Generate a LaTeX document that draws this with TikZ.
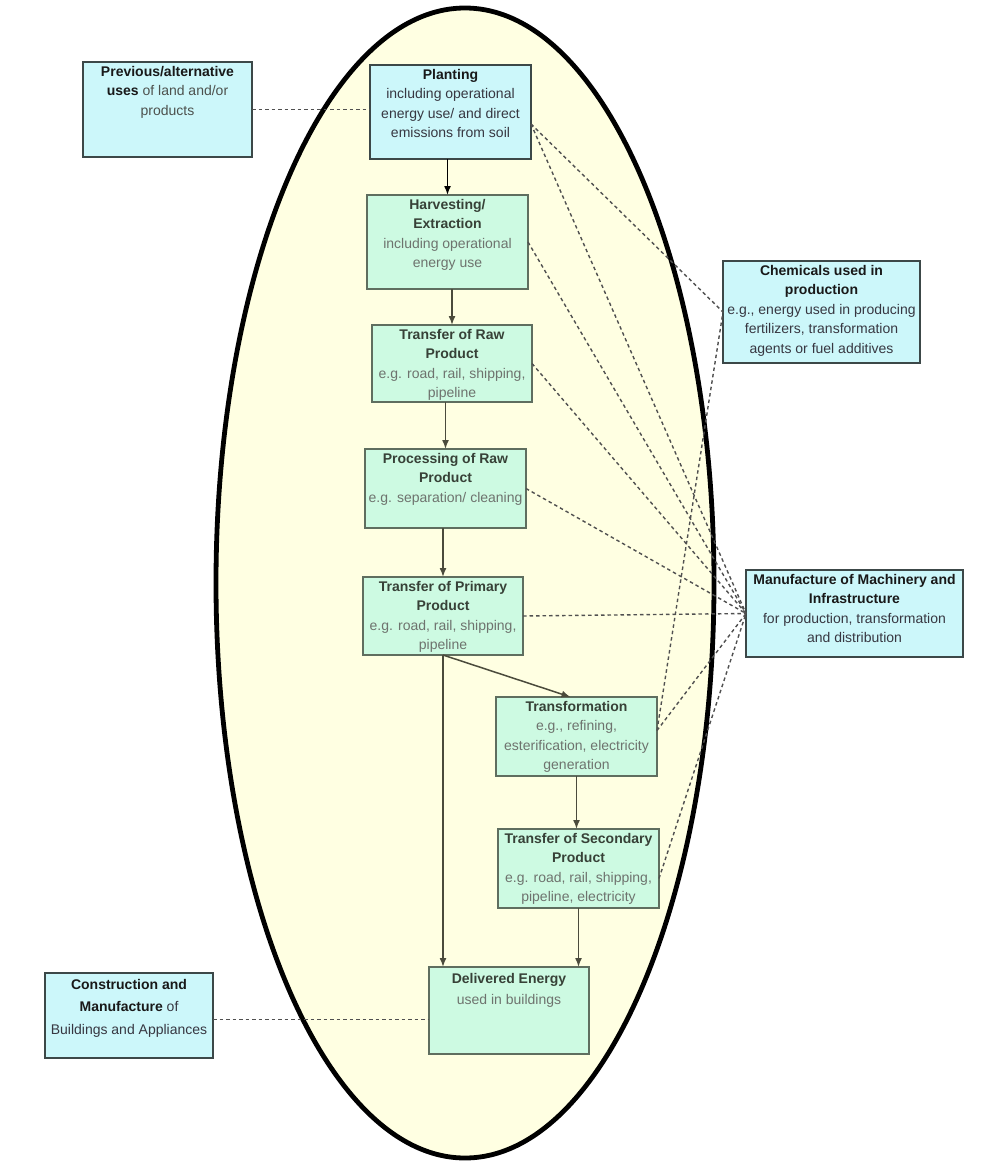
\documentclass[tikz,border=0pt]{standalone}
\usepackage{fontspec}
\setmainfont{Liberation Sans}
\usetikzlibrary{arrows.meta,calc}
\definecolor{cyanfill}{RGB}{204,247,250}
\definecolor{greenfill}{RGB}{205,250,226}
\definecolor{ellfill}{RGB}{255,255,226}
\definecolor{cyanborder}{RGB}{60,72,72}
\definecolor{greenborder}{RGB}{95,110,95}
\definecolor{arrowcol}{RGB}{75,75,60}
\definecolor{dashcol}{RGB}{80,80,80}
\definecolor{titledark}{RGB}{25,25,25}
\definecolor{titlegreen}{RGB}{55,65,55}
\definecolor{bodygray}{RGB}{110,115,110}
\definecolor{bodydark}{RGB}{55,55,65}
\newcommand\cytitle[1]{\textcolor{titledark}{\bfseries #1}}
\newcommand\grtitle[1]{\textcolor{titlegreen}{\bfseries #1}}
\begin{document}
\begin{tikzpicture}[x=1pt,y=-1pt,
  cbox/.style={draw=cyanborder, fill=cyanfill, line width=1.3pt, anchor=north west, inner sep=0pt, outer sep=0pt},
  gbox/.style={draw=greenborder, fill=greenfill, line width=1.3pt, anchor=north west, inner sep=0pt, outer sep=0pt},
  txt/.style={anchor=north, inner sep=0pt, align=center, font=\fontsize{14}{19.5}\selectfont},
  ctxt/.style={txt, text=bodydark},
  gtxt/.style={txt, text=bodygray},
  dashline/.style={draw=dashcol, line width=1.4pt, dash pattern=on 3.5pt off 3pt},
  flow/.style={draw=arrowcol, line width=1.5pt, -{Latex[length=9pt,width=7pt]}},
]
\useasboundingbox[fill=white] (0,0) rectangle (1005,1162);
% ellipse
\draw[line width=4.8pt, fill=ellfill] (465,583) ellipse [x radius=249, y radius=575];

% boxes
\node[cbox, minimum width=169, minimum height=95] (prev) at (83,62) {};
\node[cbox, minimum width=161, minimum height=94] (plant) at (370,65) {};
\node[gbox, minimum width=161, minimum height=94] (harv) at (367,195) {};
\node[gbox, minimum width=160, minimum height=77] (tr) at (372,325) {};
\node[gbox, minimum width=161, minimum height=79] (proc) at (365,449) {};
\node[gbox, minimum width=160, minimum height=78] (tp) at (363,577) {};
\node[gbox, minimum width=161, minimum height=79] (tf) at (496,697) {};
\node[gbox, minimum width=161, minimum height=79] (ts) at (498,829) {};
\node[gbox, minimum width=160, minimum height=87] (deliv) at (429,967) {};
\node[cbox, minimum width=168, minimum height=85] (cons) at (45,973) {};
\node[cbox, minimum width=197, minimum height=102] (chem) at (723,261) {};
\node[cbox, minimum width=217, minimum height=87] (man) at (746,570) {};

% dashed relations
\draw[dashline] (prev.east) -- (prev.east -| plant.west);
\draw[dashline] ([yshift=-4pt]cons.east) -- ([yshift=-4pt]cons.east -| deliv.west);
\draw[dashline] ([yshift=-12pt]plant.east) -- (chem.west);
\draw[dashline] ([yshift=-12pt]plant.east) -- (man.west);
\draw[dashline] (harv.east) -- (man.west);
\draw[dashline] (tr.east) -- (man.west);
\draw[dashline] (proc.east) -- (man.west);
\draw[dashline] (tp.east) -- (man.west);
\draw[dashline] ([yshift=6pt]tf.east) -- (chem.west);
\draw[dashline] ([yshift=6pt]tf.east) -- (man.west);
\draw[dashline] ([yshift=-10pt]ts.east) -- (man.west);

% texts
\node[ctxt, text=bodygray!70!black] (prevt) at ([yshift=-4pt]prev.north) {\cytitle{Previous/alternative}\\\cytitle{uses} of land and/or\\products};
\node[ctxt] (plantt) at ([yshift=-4pt]plant.north) {\cytitle{Planting}\\including operational\\energy use/ and direct\\emissions from soil};
\node[gtxt] (harvt) at ([yshift=-4pt]harv.north) {\grtitle{Harvesting/}\\\grtitle{Extraction}\\including operational\\energy use};
\node[gtxt] (trt) at ([yshift=-4pt]tr.north) {\grtitle{Transfer of Raw}\\\grtitle{Product}\\e.g. road, rail, shipping,\\pipeline};
\node[gtxt] (proct) at ([yshift=-4pt]proc.north) {\grtitle{Processing of Raw}\\\grtitle{Product}\\e.g. separation/ cleaning};
\node[gtxt] (tpt) at ([yshift=-4pt]tp.north) {\grtitle{Transfer of Primary}\\\grtitle{Product}\\e.g. road, rail, shipping,\\pipeline};
\node[gtxt] (tft) at ([yshift=-4pt]tf.north) {\grtitle{Transformation}\\e.g., refining,\\esterification, electricity\\generation};
\node[gtxt] (tst) at ([yshift=-4pt]ts.north) {\grtitle{Transfer of Secondary}\\\grtitle{Product}\\e.g. road, rail, shipping,\\pipeline, electricity};
\node[gtxt, font=\fontsize{14}{21}\selectfont] (delivt) at ([yshift=-6pt]deliv.north) {\grtitle{Delivered Energy}\\used in buildings};
\node[ctxt, font=\fontsize{14}{22.5}\selectfont] (const) at ([yshift=-6pt]cons.north) {\cytitle{Construction and}\\\cytitle{Manufacture} of\\Buildings and Appliances};
\node[ctxt] (chemt) at ([yshift=-4pt]chem.north) {\cytitle{Chemicals used in}\\\cytitle{production}\\e.g., energy used in producing\\fertilizers, transformation\\agents or fuel additives};
\node[ctxt] (mant) at ([yshift=-4pt]man.north) {\cytitle{Manufacture of Machinery and}\\\cytitle{Infrastructure}\\for production, transformation\\and distribution};

% flow arrows
\draw[flow, draw=black] (plant.south -| harv.north) -- (harv.north);
\draw[flow] (harv.south -| tr.north) -- (tr.north);
\draw[flow] (tr.south -| proc.north) -- (proc.north);
\draw[flow] (proc.south -| tp.north) -- (tp.north);
\draw[flow] (tp.south) -- ([xshift=-6pt]tf.north);
\draw[flow] (tp.south) -- (tp.south |- deliv.north);
\draw[flow] (tf.south) -- (tf.south |- ts.north);
\draw[flow] (ts.south) -- (ts.south |- deliv.north);
\end{tikzpicture}
\end{document}
